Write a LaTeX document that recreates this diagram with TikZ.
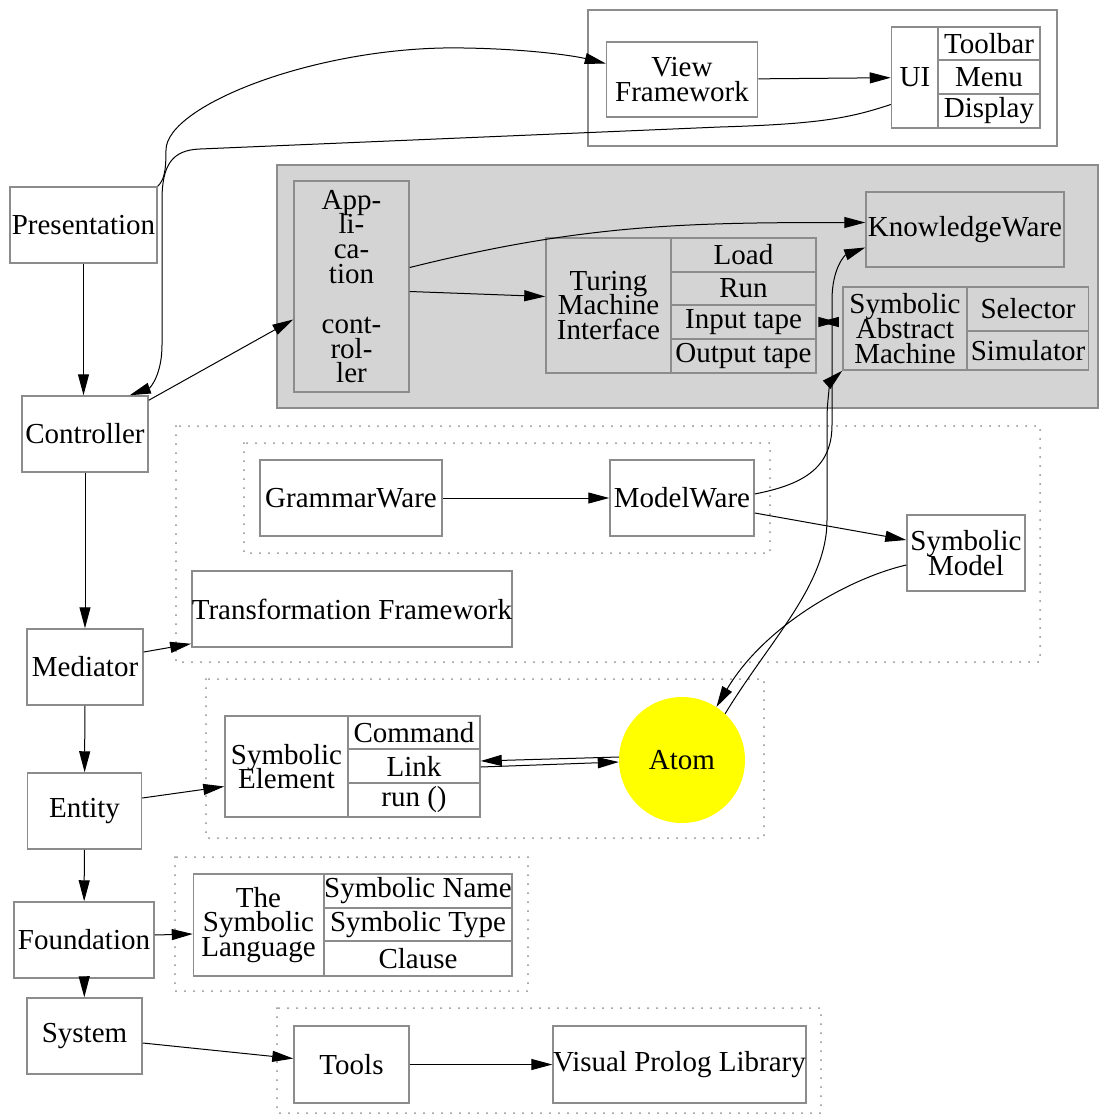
\documentclass[tikz,border=0pt]{standalone}
\usepackage{fontspec}
\setmainfont{Liberation Serif}
\usetikzlibrary{arrows.meta}
\definecolor{boxgray}{gray}{0.55}
\definecolor{clustergray}{gray}{0.83}
\definecolor{atomyellow}{RGB}{255,255,0}
\lineskiplimit=-100pt
\tikzstyle{every node}=[font={\rmfamily\fontsize{29}{24.8}\selectfont}]
\tikzset{box/.style={draw=boxgray, line width=1.5pt, rectangle, inner sep=0pt, align=center},
  cluster/.style={draw=boxgray, line width=1.5pt},
  dotcluster/.style={draw=boxgray, line width=2pt, line cap=round, dash pattern=on 0pt off 9pt},
  wire/.style={->, line width=1pt}}

\begin{document}
\begin{tikzpicture}[x=1pt, y=-1pt, >={Triangle[length=21pt,width=11pt]}]
    \useasboundingbox (0,0) rectangle (1099,1117);
    \draw[cluster] (588,10) rectangle (1057,146);
    \draw[cluster, fill=clustergray] (277,165) rectangle (1098,408);
    \draw[dotcluster] (176,426) rectangle (1040,662);
    \draw[dotcluster] (244,443) rectangle (770,553);
    \draw[dotcluster] (206,679) rectangle (764,838);
    \draw[dotcluster] (175,857) rectangle (528,991);
    \draw[dotcluster] (277,1008) rectangle (821,1113);

    \node[box, minimum width=147pt, minimum height=76pt] (pres) at (83.5,225) {Presentation};
    \node[box, minimum width=126pt, minimum height=76pt] (ctrl) at (85,434) {Controller};
    \node[box, minimum width=116pt, minimum height=76pt] (med) at (85,667) {Mediator};
    \node[box, minimum width=114pt, minimum height=76pt] (ent) at (84.5,811) {Entity};
    \node[box, minimum width=140pt, minimum height=76pt] (found) at (84,940) {Foundation};
    \node[box, minimum width=115pt, minimum height=76pt] (sys) at (84.5,1036) {System};

    \node[box, minimum width=151pt, minimum height=75pt] (view) at (682,79.5) {View\\Framework};
    \node[box, minimum width=47pt, minimum height=101pt] (ui) at (915,77.5) {UI};
    \node[box, minimum width=102pt, minimum height=33pt] (toolbar) at (989,43.5) {Toolbar};
    \node[box, minimum width=102pt, minimum height=34pt] (menu) at (989,77) {Menu};
    \node[box, minimum width=102pt, minimum height=34pt] (display) at (989,111) {Display};

    \node[box, minimum width=115pt, minimum height=211pt] (app) at (351.5,286.5)
      {App-\\li-\\ca-\\tion\\[25pt]cont-\\rol-\\ler};
    \node[box, minimum width=198pt, minimum height=75pt] (kw) at (965,229.5) {KnowledgeWare};
    \node[box, minimum width=125pt, minimum height=135pt] (tmi) at (608.5,305.5) {Turing\\Machine\\Interface};
    \node[box, minimum width=145pt, minimum height=34pt] (load) at (743.5,255) {Load};
    \node[box, minimum width=145pt, minimum height=33pt] (run) at (743.5,288.5) {Run};
    \node[box, minimum width=145pt, minimum height=34pt] (intape) at (743.5,322) {Input tape};
    \node[box, minimum width=145pt, minimum height=34pt] (outtape) at (743.5,356) {Output tape};
    \node[box, minimum width=124pt, minimum height=83pt] (sam) at (905,328.5) {Symbolic\\Abstract\\Machine};
    \node[box, minimum width=121pt, minimum height=44pt] (selector) at (1028,309) {Selector};
    \node[box, minimum width=121pt, minimum height=39pt] (simulator) at (1028,350.5) {Simulator};

    \node[box, minimum width=182pt, minimum height=76pt] (gw) at (351,498) {GrammarWare};
    \node[box, minimum width=144pt, minimum height=76pt] (mw) at (682,498) {ModelWare};
    \node[box, minimum width=118pt, minimum height=76pt] (sm) at (966,553) {Symbolic\\Model};
    \node[box, minimum width=318pt, minimum height=76pt] (tf) at (352,609) {Transformation Framework};

    \node[box, minimum width=123pt, minimum height=101pt] (symel) at (286.5,766.5) {Symbolic\\Element};
    \node[box, minimum width=132pt, minimum height=33pt] (command) at (414,732.5) {Command};
    \node[box, minimum width=132pt, minimum height=34pt] (linkcell) at (414,766) {Link};
    \node[box, minimum width=132pt, minimum height=34pt] (runcell) at (414,800) {run ()};
    \node[circle, fill=atomyellow, inner sep=0pt, minimum size=126pt] (atom) at (682,760) {Atom};

    \node[box, minimum width=130pt, minimum height=102pt] (tsl) at (258.5,925) {The\\Symbolic\\Language};
    \node[box, minimum width=188pt, minimum height=34pt] (symname) at (418,891) {Symbolic Name};
    \node[box, minimum width=188pt, minimum height=33pt] (symtype) at (418,924.5) {Symbolic Type};
    \node[box, minimum width=188pt, minimum height=35pt] (clause) at (418,958.5) {Clause};

    \node[box, minimum width=115pt, minimum height=77pt] (tools) at (351.5,1064.5) {Tools};
    \node[box, minimum width=249pt, minimum height=77pt] (vpl) at (679.5,1064.5) {Visual Prolog Library};

    \draw[wire] (pres) -- (pres |- ctrl.north);
    \draw[wire] (pres.north east) .. controls (164,180) and (166,172) .. (166,150)
      .. controls (166,105) and (320,45) .. (464,48) .. controls (530,49) and (575,56) .. ([yshift=16pt]view.west);
    \draw[wire] (view) -- (ui);
    \draw[wire] ([yshift=-27pt]ui.west) .. controls (850,118) and (820,124) .. (720,127) -- (200,149)
      .. controls (172,150) and (162,165) .. (162,200) -- (162,345)
      .. controls (162,375) and (150,388) .. ([xshift=-19pt]ctrl.north east);
    \draw[wire] ([yshift=-5pt]ctrl.north east) -- ([yshift=-33pt]app.west);
    \draw[wire] ([yshift=19pt]app.east) to[out=14, in=180] ([yshift=7pt]kw.west);
    \draw[wire] ([yshift=-5pt]app.east) -- ([yshift=9pt]tmi.west);
    \draw[{Triangle[length=19pt,width=10pt]}-{Triangle[length=19pt,width=10pt]}, line width=1pt,
      shorten <=3pt, shorten >=5pt] (intape.east) -- (intape.east -| sam.west);
    \draw[wire] (atom.47) .. controls (770,640) and (827,585) .. (827,520) -- (827,420)
      .. controls (827,395) and (832,380) .. (sam.south west);
    \draw[wire] ([yshift=4pt]mw.east) .. controls (800,485) and (832,470) .. (832,425) -- (832,300)
      .. controls (832,268) and (845,255) .. ([yshift=-18pt]kw.west);
    \draw[wire] (gw) -- (mw);
    \draw[wire] ([yshift=-15pt]mw.east) -- ([yshift=13pt]sm.west);
    \draw[wire] ([yshift=-12pt]sm.west) .. controls (850,578) and (765,625) .. (atom.57);
    \draw[wire] (ctrl) -- (med);
    \draw[wire] ([yshift=15pt]med.east) -- ([yshift=4pt]tf.south west);
    \draw[wire] (med) -- (ent);
    \draw[wire] ([yshift=13pt]ent.east) -- ([yshift=-20pt]symel.west);
    \draw[wire] ([yshift=-1pt]linkcell.east) -- ([yshift=-2pt]atom.west);
    \draw[wire] ([yshift=3pt]atom.west) -- ([yshift=5pt]linkcell.east);
    \draw[wire] (ent) -- (found);
    \draw[wire] ([yshift=5pt]found.east) -- ([yshift=-9pt]tsl.west);
    \draw[wire] (found) -- (sys);
    \draw[wire] ([yshift=-7pt]sys.east) -- ([yshift=6pt]tools.west);
    \draw[wire] (tools) -- (vpl);
\end{tikzpicture}
\end{document}
